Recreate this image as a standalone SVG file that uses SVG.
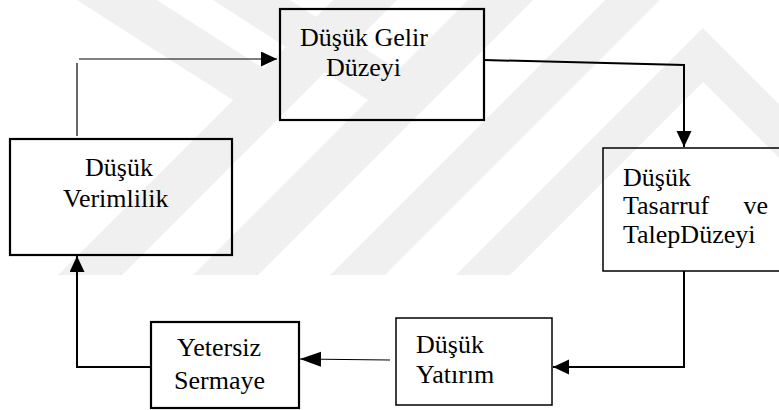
<svg xmlns="http://www.w3.org/2000/svg" width="779" height="410" viewBox="0 0 779 410">
<style>
  .wm { fill: #f0f0f0; stroke: none; }
  .box { fill: none; stroke: #000; }
  .thick { stroke-width: 2.2; }
  .thin { stroke-width: 1.5; }
  .lbl { font-size: 26px; fill: #000; }
  .c { fill: none; stroke: #000; }
  .cthin { stroke-width: 1.2; }
  .cthick { stroke-width: 2; }
</style>
<defs>
  <marker id="ah" markerUnits="userSpaceOnUse" markerWidth="17" markerHeight="16" refX="16" refY="7.5" orient="auto" viewBox="0 0 17 16">
    <path d="M0,0 L16,7.5 L0,15 Z" fill="#000"/>
  </marker>
  <marker id="ahlong" markerUnits="userSpaceOnUse" markerWidth="22" markerHeight="16" refX="21" refY="7.5" orient="auto" viewBox="0 0 22 16">
    <path d="M0,0 L21,7.5 L0,15 Z" fill="#000"/>
  </marker>
</defs>
<rect x="0" y="0" width="779" height="410" fill="#fff"/>
<g id="watermark">
  <polygon class="wm" points="77,0 157,0 264,69 233,100"/>
  <polygon class="wm" points="58,275 122,275 397,0 333,0"/>
  <polygon class="wm" points="213,0 290,0 398,70 368,100"/>
  <polygon class="wm" points="193,275 258,275 533,0 468,0"/>
  <polygon class="wm" points="330,275 385,275 660,0 605,0"/>
  <polygon class="wm" points="456,275 510,275 703,82 779,158 779,104 703,28"/>
</g>
<g id="connectors">
  <line class="c cthin" x1="77" y1="136" x2="77" y2="63"/>
  <line class="c cthin" x1="79" y1="59" x2="277" y2="59" marker-end="url(#ah)"/>
  <path class="c cthick" d="M484,60 L684,65 L684,147" marker-end="url(#ah)"/>
  <path class="c cthick" d="M684,271 L684,367 L553,367" marker-end="url(#ah)"/>
  <line class="c cthin" x1="390" y1="360" x2="300" y2="359" marker-end="url(#ahlong)"/>
  <path class="c cthick" d="M151,367 L77,367 L77,256" marker-end="url(#ah)"/>
</g>
<g font-family="Liberation Serif, serif">
<g id="node-gelir">
  <rect class="box thick" x="280" y="9" width="204" height="111"/>
  <text class="lbl" x="300" y="46">Düşük Gelir</text>
  <text class="lbl" x="326" y="76">Düzeyi</text>
</g>
<g id="node-verimlilik">
  <rect class="box thick" x="10" y="139" width="222" height="116"/>
  <text class="lbl" x="85" y="176">Düşük</text>
  <text class="lbl" x="63" y="207">Verimlilik</text>
</g>
<g id="node-tasarruf">
  <rect class="box thin" x="603" y="148" width="180" height="123"/>
  <text class="lbl" x="623" y="186">Düşük</text>
  <text class="lbl" x="623" y="214">Tasarruf</text>
  <text class="lbl" x="768" y="214" text-anchor="end">ve</text>
  <text class="lbl" x="623" y="243">TalepDüzeyi</text>
</g>
<g id="node-yatirim">
  <rect class="box thin" x="396" y="318" width="156" height="87"/>
  <text class="lbl" x="416" y="353">Düşük</text>
  <text class="lbl" x="416" y="383">Yatırım</text>
</g>
<g id="node-sermaye">
  <rect class="box thick" x="151" y="322" width="148" height="86"/>
  <text class="lbl" x="177" y="356">Yetersiz</text>
  <text class="lbl" x="174" y="389">Sermaye</text>
</g>
</g>
</svg>
